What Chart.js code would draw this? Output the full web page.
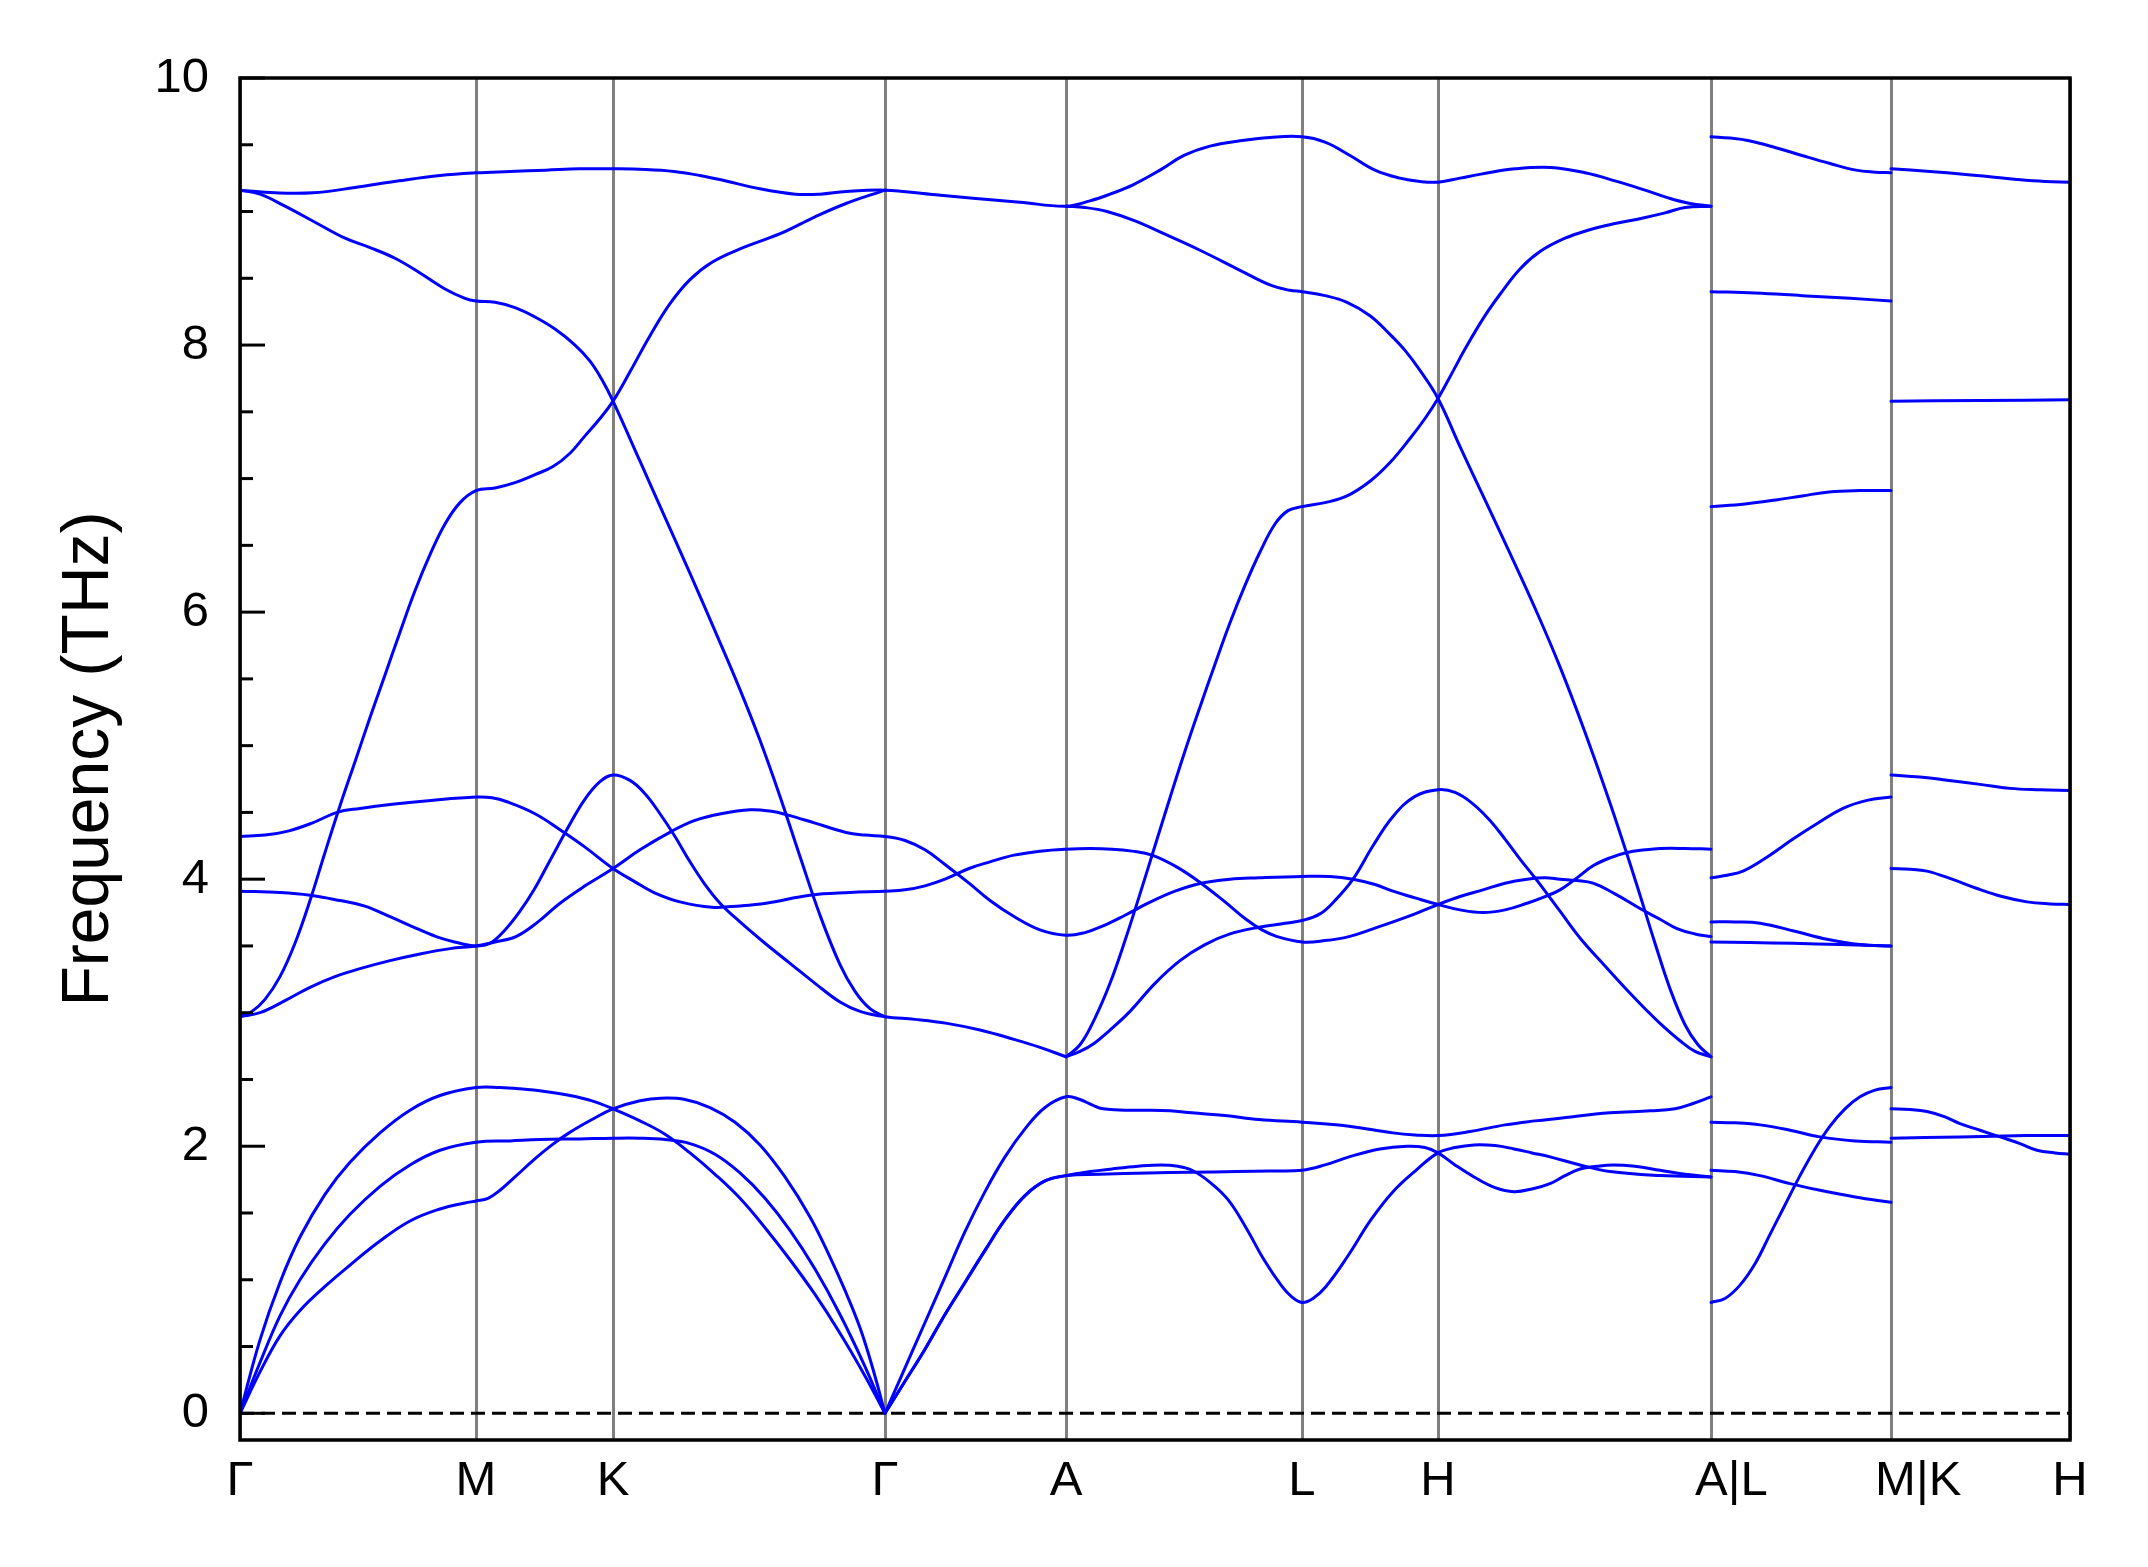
<!DOCTYPE html>
<html>
<head>
<meta charset="utf-8">
<script src="https://cdn.jsdelivr.net/npm/chart.js"></script>
<style>
html,body{margin:0;padding:0;background:#fff;}
canvas{display:block;}
</style>
</head>
<body>
<canvas id="c" width="2148" height="1567" style="width:2148px;height:1567px"></canvas>
<script>
// High-symmetry path (cumulative k-distance, arbitrary units) and labels
const kPositions = [0, 236, 373, 645, 826, 1062, 1198, 1471, 1651, 1830];
const kLabels = ['Γ', 'M', 'K', 'Γ', 'A', 'L', 'H', '\u00a0\u00a0\u00a0A|L', '\u00a0\u00a0\u00a0\u00a0M|K', 'H'];
const yMajorTicks = [0, 2, 4, 6, 8, 10];
const yMinorTicks = [0.5, 1, 1.5, 2.5, 3, 3.5, 4.5, 5, 5.5, 6.5, 7, 7.5, 8.5, 9, 9.5];

// Path Γ-M-K-Γ-A-L-H-A : phonon branches [k, frequency THz]; null = kink
const bandT1 = [[0,9.16],[35,9.14],[73,9.14],[115,9.18],[159,9.23],[200,9.27],[236,9.29],[270,9.30],[306,9.31],[340,9.32],[373,9.32],[405,9.315],[434,9.30],[460,9.27],[485,9.23],[520,9.17],[555,9.13],[580,9.13],[606,9.15],[645,9.16],[690,9.13],[733,9.10],[780,9.07],[826,9.04],[850,9.08],[870,9.13],[893,9.20],[920,9.31],[944,9.42],[970,9.49],[1000,9.53],[1030,9.555],[1062,9.56],[1085,9.52],[1110,9.42],[1135,9.31],[1160,9.25],[1180,9.225],[1198,9.22],[1220,9.25],[1241,9.28],[1275,9.32],[1311,9.33],[1345,9.29],[1375,9.23],[1405,9.16],[1429,9.10],[1450,9.06],[1471,9.04]];
const bandT2 = [[0,9.16],[20,9.13],[45,9.04],[75,8.92],[105,8.80],[130,8.73],[155,8.65],[180,8.54],[205,8.42],[225,8.35],[236,8.33],[255,8.32],[275,8.28],[295,8.21],[315,8.12],[335,8.00],[350,7.88],[362,7.74],[373,7.58],[400,7.13],[425,6.71],[450,6.29],[475,5.86],[500,5.42],[520,5.04],[540,4.62],[560,4.17],[580,3.73],[600,3.36],[615,3.16],[630,3.03],[645,2.97]];
const bandT3 = [[0,2.97],[12,3.01],[25,3.10],[40,3.27],[55,3.52],[70,3.84],[85,4.20],[100,4.55],[115,4.88],[130,5.21],[145,5.53],[160,5.85],[175,6.16],[190,6.43],[205,6.66],[220,6.82],[236,6.91],[255,6.93],[275,6.97],[295,7.03],[313,7.09],[330,7.19],[345,7.32],[360,7.45],[373,7.58],[390,7.80],[410,8.07],[430,8.31],[450,8.49],[472,8.62],[500,8.72],[542,8.84],[575,8.96],[606,9.06],[645,9.16]];
const bandM1 = [[0,4.32],[25,4.33],[48,4.36],[72,4.42],[97,4.50],[120,4.53],[150,4.56],[191,4.59],[236,4.615],[252,4.61],[267,4.58],[295,4.49],[320,4.37],[345,4.24],[373,4.08],[395,3.98],[414,3.90],[440,3.83],[472,3.79],[500,3.80],[526,3.82],[570,3.88],[610,3.90],[645,3.91],[665,3.92],[685,3.95],[705,4.00],[729,4.08],[750,4.13],[774,4.18],[800,4.21],[826,4.225],[850,4.23],[872,4.225],[892,4.21],[912,4.18],[937,4.09],[961,3.97],[985,3.83],[1006,3.70],[1022,3.62],[1037,3.57],[1062,3.53],[1085,3.54],[1109,3.57],[1130,3.62],[1153,3.68],[1175,3.74],[1198,3.81],[1220,3.87],[1243,3.92],[1265,3.97],[1287,4.00],[1305,4.01],[1320,4.00],[1337,3.99],[1353,3.97],[1375,3.89],[1400,3.78],[1420,3.70],[1437,3.63],[1455,3.59],[1471,3.57]];
const bandM2 = [[0,3.91],[40,3.90],[70,3.88],[100,3.84],[124,3.80],[150,3.72],[177,3.63],[200,3.56],[220,3.52],[236,3.50],[250,3.52],[265,3.62],[280,3.76],[294,3.92],[310,4.14],[329,4.40],[345,4.60],[360,4.73],[373,4.78],[390,4.74],[405,4.64],[420,4.49],[435,4.32],[450,4.13],[465,3.96],[480,3.82],[500,3.68],[525,3.52],[550,3.37],[575,3.22],[600,3.08],[620,3.01],[645,2.97],[675,2.95],[707,2.92],[740,2.87],[774,2.80],[800,2.74],[826,2.67],null,[826,2.67],[840,2.76],[855,2.96],[870,3.22],[885,3.54],[900,3.89],[915,4.25],[930,4.61],[945,4.96],[960,5.29],[975,5.61],[990,5.92],[1005,6.20],[1020,6.45],[1035,6.66],[1048,6.76],[1062,6.79],[1085,6.82],[1107,6.87],[1130,6.98],[1150,7.12],[1170,7.30],[1185,7.45],[1198,7.60],[1212,7.79],[1225,7.97],[1245,8.22],[1262,8.40],[1280,8.57],[1300,8.70],[1325,8.80],[1348,8.86],[1375,8.91],[1402,8.95],[1425,8.99],[1445,9.03],[1471,9.04]];
const bandM3 = [[0,2.97],[20,3.00],[45,3.09],[70,3.19],[95,3.27],[120,3.33],[150,3.39],[180,3.44],[210,3.48],[236,3.50],[255,3.53],[276,3.57],[298,3.68],[320,3.82],[345,3.95],[373,4.08],[400,4.22],[432,4.36],[455,4.44],[481,4.49],[510,4.52],[530,4.51],[548,4.48],[575,4.42],[606,4.35],[625,4.33],[645,4.32],[665,4.29],[685,4.22],[705,4.11],[729,3.97],[750,3.84],[774,3.72],[800,3.62],[826,3.58],[845,3.60],[863,3.65],[885,3.73],[908,3.82],[935,3.91],[961,3.97],[990,4.00],[1019,4.01],[1062,4.02],[1090,4.02],[1113,4.00],[1135,3.96],[1153,3.91],[1175,3.86],[1198,3.81],[1220,3.77],[1243,3.75],[1265,3.77],[1287,3.82],[1305,3.87],[1320,3.92],[1337,4.01],[1353,4.10],[1370,4.16],[1387,4.20],[1405,4.22],[1420,4.23],[1445,4.23],[1471,4.225]];
const bandM4 = [[826,2.67],[840,2.71],[854,2.77],[870,2.87],[890,3.01],[915,3.22],[940,3.39],[965,3.51],[990,3.59],[1019,3.64],[1045,3.67],[1062,3.69],[1080,3.74],[1095,3.84],[1113,4.00],[1133,4.25],[1153,4.47],[1175,4.62],[1198,4.67],[1215,4.65],[1232,4.57],[1250,4.44],[1265,4.30],[1280,4.15],[1296,4.00],[1320,3.76],[1340,3.56],[1365,3.35],[1387,3.17],[1405,3.03],[1420,2.92],[1440,2.79],[1455,2.71],[1471,2.67]];
const bandM5 = [[826,9.04],[845,9.03],[867,9.00],[895,8.93],[925,8.83],[960,8.71],[1000,8.56],[1030,8.45],[1050,8.41],[1062,8.40],[1085,8.37],[1107,8.32],[1130,8.22],[1150,8.08],[1165,7.96],[1180,7.81],[1198,7.60],[1220,7.24],[1245,6.84],[1270,6.44],[1295,6.03],[1320,5.59],[1345,5.10],[1370,4.57],[1395,4.00],[1415,3.52],[1430,3.18],[1445,2.91],[1458,2.76],[1471,2.67]];
const bandA1 = [[0,0],[20,0.55],[40,0.98],[60,1.32],[85,1.64],[110,1.88],[140,2.10],[170,2.27],[200,2.38],[236,2.44],[260,2.44],[280,2.43],[305,2.41],[330,2.38],[352,2.34],[373,2.28],[400,2.19],[425,2.09],[450,1.95],[475,1.79],[500,1.61],[525,1.39],[550,1.15],[575,0.89],[600,0.60],[625,0.28],[645,0],null,[645,0],[665,0.34],[685,0.68],[705,1.02],[725,1.36],[745,1.66],[765,1.92],[785,2.13],[805,2.29],[826,2.37],[840,2.35],[852,2.31],[863,2.28],[885,2.27],[908,2.27],[930,2.265],[952,2.25],[985,2.23],[1019,2.20],[1062,2.18],[1109,2.15],[1153,2.10],[1175,2.085],[1198,2.08],[1230,2.11],[1265,2.16],[1295,2.19],[1320,2.21],[1370,2.25],[1410,2.265],[1435,2.28],[1453,2.32],[1471,2.37]];
const bandA2 = [[0,0],[20,0.38],[40,0.73],[60,1.00],[85,1.27],[110,1.49],[140,1.70],[170,1.86],[200,1.97],[236,2.03],[270,2.04],[300,2.05],[340,2.055],[373,2.06],[400,2.06],[425,2.05],[450,2.02],[475,1.94],[500,1.80],[525,1.61],[550,1.37],[575,1.08],[600,0.74],[625,0.35],[645,0],null,[645,0],[665,0.24],[685,0.48],[705,0.74],[725,0.98],[745,1.22],[765,1.45],[785,1.63],[805,1.74],[826,1.78],[860,1.79],[908,1.80],[950,1.805],[997,1.81],[1030,1.815],[1062,1.82],[1085,1.86],[1109,1.92],[1140,1.98],[1167,2.00],[1185,1.99],[1198,1.95],[1215,1.86],[1234,1.77],[1255,1.69],[1274,1.66],[1292,1.68],[1310,1.72],[1325,1.78],[1340,1.83],[1357,1.85],[1373,1.86],[1395,1.85],[1420,1.82],[1445,1.79],[1471,1.77]];
const bandA3 = [[0,0],[20,0.31],[40,0.58],[60,0.77],[85,0.95],[110,1.11],[140,1.29],[170,1.44],[200,1.53],[225,1.575],[236,1.59],[248,1.61],[260,1.67],[275,1.77],[294,1.90],[312,2.01],[329,2.10],[352,2.20],[373,2.28],[400,2.34],[421,2.36],[445,2.35],[470,2.29],[495,2.18],[520,2.01],[545,1.77],[570,1.47],[590,1.17],[605,0.92],[620,0.64],[633,0.33],[645,0],null,[645,0],[665,0.24],[685,0.48],[705,0.74],[725,0.98],[745,1.22],[765,1.45],[785,1.63],[805,1.74],[826,1.78],[850,1.81],[872,1.83],[898,1.85],[921,1.86],[938,1.85],[952,1.82],[970,1.73],[988,1.60],[1006,1.39],[1024,1.15],[1042,0.95],[1052,0.87],[1062,0.83],[1073,0.86],[1086,0.95],[1108,1.18],[1131,1.45],[1153,1.66],[1176,1.82],[1198,1.95],[1215,1.99],[1234,2.01],[1255,2.005],[1274,1.98],[1292,1.95],[1310,1.92],[1340,1.86],[1370,1.81],[1420,1.78],[1471,1.77]];

// Path L-M
const lmBand1 = [[1471,9.56],[1490,9.55],[1509,9.53],[1535,9.48],[1562,9.42],[1590,9.36],[1616,9.31],[1635,9.295],[1651,9.29]];
const lmBand2 = [[1471,8.40],[1515,8.39],[1562,8.37],[1610,8.35],[1651,8.33]];
const lmBand3 = [[1471,6.79],[1505,6.81],[1536,6.84],[1562,6.87],[1589,6.90],[1620,6.91],[1651,6.91]];
const lmBand4 = [[1471,4.01],[1487,4.03],[1503,4.06],[1528,4.17],[1553,4.30],[1578,4.42],[1603,4.53],[1627,4.59],[1651,4.615]];
const lmBand5 = [[1471,3.68],[1495,3.68],[1520,3.67],[1555,3.61],[1587,3.55],[1620,3.51],[1651,3.50]];
const lmBand6 = [[1471,3.53],[1510,3.525],[1553,3.52],[1600,3.51],[1651,3.50]];
const lmBand7 = [[1471,2.18],[1495,2.175],[1520,2.16],[1550,2.12],[1580,2.07],[1615,2.04],[1651,2.03]];
const lmBand8 = [[1471,1.82],[1495,1.81],[1520,1.78],[1550,1.72],[1580,1.67],[1615,1.62],[1651,1.58]];
const lmBand9 = [[1471,0.83],[1485,0.86],[1500,0.96],[1515,1.12],[1530,1.34],[1545,1.56],[1560,1.78],[1575,1.98],[1590,2.15],[1605,2.28],[1620,2.37],[1635,2.42],[1651,2.44]];

// Path K-H
const khBand1 = [[1651,9.32],[1690,9.30],[1723,9.28],[1750,9.26],[1777,9.24],[1805,9.225],[1830,9.22]];
const khBand2 = [[1651,7.58],[1740,7.585],[1830,7.59]];
const khBand3 = [[1651,4.78],[1680,4.765],[1703,4.745],[1740,4.71],[1770,4.68],[1800,4.67],[1830,4.665]];
const khBand4 = [[1651,4.08],[1670,4.075],[1687,4.06],[1712,4.00],[1737,3.93],[1762,3.87],[1787,3.83],[1810,3.815],[1830,3.81]];
const khBand5 = [[1651,2.28],[1670,2.275],[1687,2.26],[1705,2.22],[1720,2.17],[1740,2.12],[1760,2.07],[1780,2.02],[1797,1.97],[1815,1.95],[1830,1.94]];
const khBand6 = [[1651,2.06],[1720,2.07],[1787,2.08],[1830,2.08]];

// Zero-frequency reference line
const zeroLine = [[0,0],[1830,0]];

const allBands = [bandT1,bandT2,bandT3,bandM1,bandM2,bandM3,bandM4,bandM5,bandA1,bandA2,bandA3,
  lmBand1,lmBand2,lmBand3,lmBand4,lmBand5,lmBand6,lmBand7,lmBand8,lmBand9,
  khBand1,khBand2,khBand3,khBand4,khBand5,khBand6];

function toPoints(arr) {
  const out = [];
  for (let i = 0; i < arr.length; i++) {
    const p = arr[i];
    if (p === null) out.push({x: arr[i-1][0], y: null});
    else out.push({x: p[0], y: p[1]});
  }
  return out;
}

const FONT = "'Liberation Sans', Arial, Helvetica, sans-serif";

const datasets = allBands.map(b => ({
  data: toPoints(b),
  borderColor: '#0000ff',
  borderWidth: 3,
  pointRadius: 0,
  fill: false,
  tension: 0.4,
  borderJoinStyle: 'round',
  borderCapStyle: 'round',
  order: 1
}));
datasets.push({
  data: toPoints(zeroLine),
  borderColor: '#000000',
  borderWidth: 3,
  borderDash: [14, 7],
  pointRadius: 0,
  fill: false,
  tension: 0,
  order: 5
});

const framePlugin = {
  id: 'frameTicks',
  afterDraw(chart) {
    const {ctx, chartArea: a, scales: {y}} = chart;
    ctx.save();
    ctx.strokeStyle = '#000';
    ctx.lineCap = 'butt';
    ctx.lineWidth = 3;
    const drawTick = (v, len) => {
      const py = y.getPixelForValue(v);
      ctx.beginPath();
      ctx.moveTo(a.left, py);
      ctx.lineTo(a.left + len, py);
      ctx.stroke();
    };
    yMajorTicks.forEach(v => drawTick(v, 25));
    yMinorTicks.forEach(v => drawTick(v, 13));
    ctx.lineWidth = 3.5;
    ctx.strokeRect(a.left, a.top, a.right - a.left, a.bottom - a.top);
    ctx.restore();
  }
};

new Chart(document.getElementById('c'), {
  type: 'line',
  data: { datasets },
  plugins: [framePlugin],
  options: {
    responsive: false,
    devicePixelRatio: 1,
    animation: false,
    events: [],
    layout: { padding: { top: 78, right: 78, bottom: 0, left: 0 } },
    plugins: { legend: { display: false }, tooltip: { enabled: false } },
    scales: {
      x: {
        type: 'linear',
        min: 0,
        max: 1830,
        afterBuildTicks: s => { s.ticks = kPositions.map(v => ({ value: v })); },
        afterFit: s => { s.height = 127; },
        ticks: {
          autoSkip: false,
          maxRotation: 0,
          minRotation: 0,
          padding: 12,
          color: '#000',
          font: { family: FONT, size: 49 },
          callback: (v, i) => kLabels[i]
        },
        grid: { color: '#808080', lineWidth: 3, drawTicks: false },
        border: { display: false }
      },
      y: {
        type: 'linear',
        min: -0.2,
        max: 10,
        afterBuildTicks: s => { s.ticks = yMajorTicks.map(v => ({ value: v })); },
        afterFit: s => { s.width = 240; },
        ticks: {
          padding: 31,
          color: '#000',
          font: { family: FONT, size: 49 },
          callback: v => String(v)
        },
        grid: { display: false, drawTicks: false },
        border: { display: false },
        title: {
          display: true,
          text: 'Frequency (THz)',
          color: '#000',
          font: { family: FONT, size: 66 },
          padding: { top: 50, bottom: 0 }
        }
      }
    }
  }
});
</script>
</body>
</html>
